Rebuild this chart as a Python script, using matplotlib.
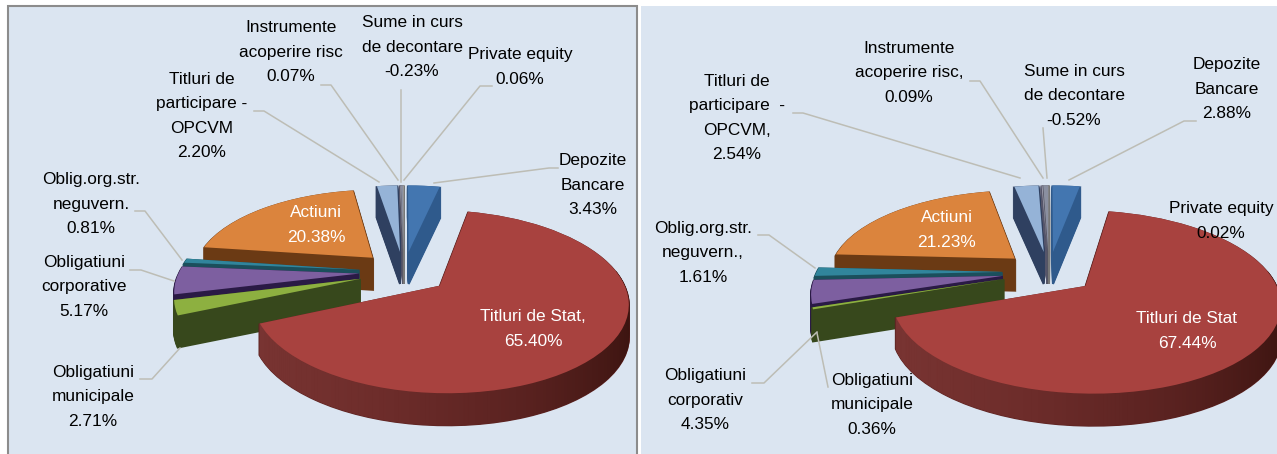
import numpy as np
import matplotlib
matplotlib.use('Agg')
import matplotlib.pyplot as plt
from matplotlib.colors import LinearSegmentedColormap
from matplotlib.patches import Rectangle
from matplotlib.transforms import Transform

plt.rcParams['font.family'] = ['Liberation Sans']

# slice order, clockwise from 12 o'clock (negative ones are drawn by size)
left_values = [3.43, 65.40, 2.71, 5.17, 0.81, 20.38, 2.20, 0.07, -0.23, 0.06]
right_values = [2.88, 67.44, 0.36, 4.35, 1.61, 21.23, 2.54, 0.09, -0.52, 0.02]

face_colors = ['#4376B0', '#A8423F', '#8DB040', '#7D5FA0', '#31859C',
               '#DB843D', '#95B3D7', '#A9A9B8', '#8A8FA0', '#B0B0B0']
side_colors = ['#2F5A8C', '#5E2422', '#37481C', '#2A1A45', '#1B4F5C',
               '#6B3A14', '#2F4060', '#55556A', '#50505F', '#777777']
draw_rank = [1, 5, 4, 3, 2, 0, 1, 1, 1, 1]

left_labels = [
    ('Depozite\nBancare\n3.43%', 593, 185, 'k'),
    ('Titluri de Stat,\n65.40%', 533, 329, 'w'),
    ('Obligatiuni\nmunicipale\n2.71%', 93, 397, 'k'),
    ('Obligatiuni\ncorporative\n5.17%', 84, 287, 'k'),
    ('Oblig.org.str.\nneguvern.\n0.81%', 91, 204, 'k'),
    ('Actiuni\n20.38%', 316, 225, 'w'),
    ('Titluri de\nparticipare -\nOPCVM\n2.20%', 202, 116, 'k'),
    ('Instrumente\nacoperire risc\n0.07%', 291, 52, 'k'),
    ('Sume in curs\nde decontare\n-0.23%', 412, 47, 'k'),
    ('Private equity\n0.06%', 520, 67, 'k'),
]
right_labels = [
    ('Depozite\nBancare\n2.88%', 1227, 89, 'k'),
    ('Titluri de Stat\n67.44%', 1187, 331, 'w'),
    ('Obligatiuni\nmunicipale\n0.36%', 872, 405, 'k'),
    ('Obligatiuni\ncorporativ\n4.35%', 705, 400, 'k'),
    ('Oblig.org.str.\nneguvern.,\n1.61%', 703, 253, 'k'),
    ('Actiuni\n21.23%', 947, 230, 'w'),
    ('Titluri de\nparticipare  -\nOPCVM,\n2.54%', 737, 118, 'k'),
    ('Instrumente\nacoperire risc,\n0.09%', 909, 73, 'k'),
    ('Sume in curs\nde decontare\n-0.52%', 1074, 96, 'k'),
    ('Private equity\n0.02%', 1221, 221, 'k'),
]

left_leaders = [
    [(558, 168), (549, 168), (434, 183)],
    [(492, 86), (480, 86), (404, 180)],
    [(401, 90), (401, 182)],
    [(321, 85), (331, 85), (398, 180)],
    [(254, 111), (264, 111), (379, 182)],
    [(135, 211), (145, 211), (182, 260)],
    [(130, 270), (141, 270), (174, 281)],
    [(140, 379), (152, 379), (180, 348)],
]
right_leaders = [
    [(793, 113), (803, 113), (1020, 178)],
    [(970, 81), (980, 81), (1043, 178)],
    [(1043, 128), (1047, 178)],
    [(1196, 121), (1184, 121), (1069, 180)],
    [(758, 235), (769, 235), (815, 268)],
    [(752, 383), (764, 383), (817, 332)],
    [(828, 387), (817, 333)],
]

red_side = LinearSegmentedColormap.from_list('red_side', ['#3C1410', '#5A2220', '#6E2D2B', '#7A3533'])
DEPTH = 32
RY = 84


class PieView(Transform):
    # tilted pie plane -> figure pixels
    input_dims = 2
    output_dims = 2
    has_inverse = False

    def __init__(self, cx, cy, rx, ry, k=0.17):
        super().__init__()
        self.cx, self.cy, self.rx, self.ry, self.k = cx, cy, rx, ry, k

    def transform_non_affine(self, values):
        values = np.asarray(values, dtype=float)
        w = 1 + self.k * values[:, 1]
        return np.column_stack([self.cx + self.rx * values[:, 0] / w,
                                self.cy - self.ry * values[:, 1] / w])


def draw_pie(ax, values, cx, cy, rx):
    sizes = np.abs(values)
    explode = [0.25] * len(sizes)

    # side walls, one pie per pixel of depth
    for d in range(DEPTH, 0, -1):
        wedges, _ = ax.pie(sizes, explode=explode, startangle=90, counterclock=False,
                           colors=side_colors, frame=True)
        view = PieView(cx, cy + d, rx, RY)
        for i, w in enumerate(wedges):
            w.set_transform(view + ax.transData)
            w.set_edgecolor(side_colors[i])
            w.set_linewidth(1.5)
            w.set_zorder(2 + draw_rank[i] + 0.5 * (DEPTH - d) / DEPTH)

    wedges, _ = ax.pie(sizes, explode=explode, startangle=90, counterclock=False,
                       colors=face_colors, frame=True)
    view = PieView(cx, cy, rx, RY)
    for i, w in enumerate(wedges):
        w.set_transform(view + ax.transData)
        w.set_zorder(2 + draw_rank[i] + 0.9)

    # shaded outer wall of the big slice
    red = wedges[1]
    low = PieView(cx, cy + DEPTH, rx, RY)
    angles = np.arange(red.theta1, red.theta2, 1.0)
    for a in angles:
        t = np.radians([a, a + 1.2])
        pts = np.column_stack([red.center[0] + np.cos(t), red.center[1] + np.sin(t)])
        top = view.transform(pts)
        bottom = low.transform(pts)
        if top[0, 1] < cy:
            continue
        shade = (np.cos(np.radians(a)) * -1 + 1) / 2
        ax.fill([top[0, 0], top[1, 0], bottom[1, 0], bottom[0, 0]],
                [top[0, 1], top[1, 1], bottom[1, 1], bottom[0, 1]],
                color=red_side(shade), lw=0.5, zorder=2 + draw_rank[1] + 0.7)


def draw_texts(ax, labels, leaders):
    for pts in leaders:
        ax.plot([p[0] for p in pts], [p[1] for p in pts], color='#BDBDB5', lw=1.1, zorder=10)
    for text, x, y, color in labels:
        ax.text(x, y, text, color=color, fontsize=12.4, ha='center', va='center',
                linespacing=1.8, zorder=11)


fig = plt.figure(figsize=(12.77, 4.54), dpi=100)
ax = fig.add_axes([0, 0, 1, 1])

draw_pie(ax, left_values, 404, 272, 180)
draw_pie(ax, right_values, 1049, 272, 186)
draw_texts(ax, left_labels, left_leaders)
draw_texts(ax, right_labels, right_leaders)

ax.add_patch(Rectangle((8, 6), 629, 460, facecolor='#DBE5F1', edgecolor='#8C8C8C', lw=1.5, zorder=0))
ax.add_patch(Rectangle((641, 6), 640, 460, facecolor='#DBE5F1', edgecolor='none', zorder=0))

ax.set_aspect('auto')
ax.set_xlim(0, 1277)
ax.set_ylim(454, 0)
ax.axis('off')

fig.savefig('out.png', dpi=100)
